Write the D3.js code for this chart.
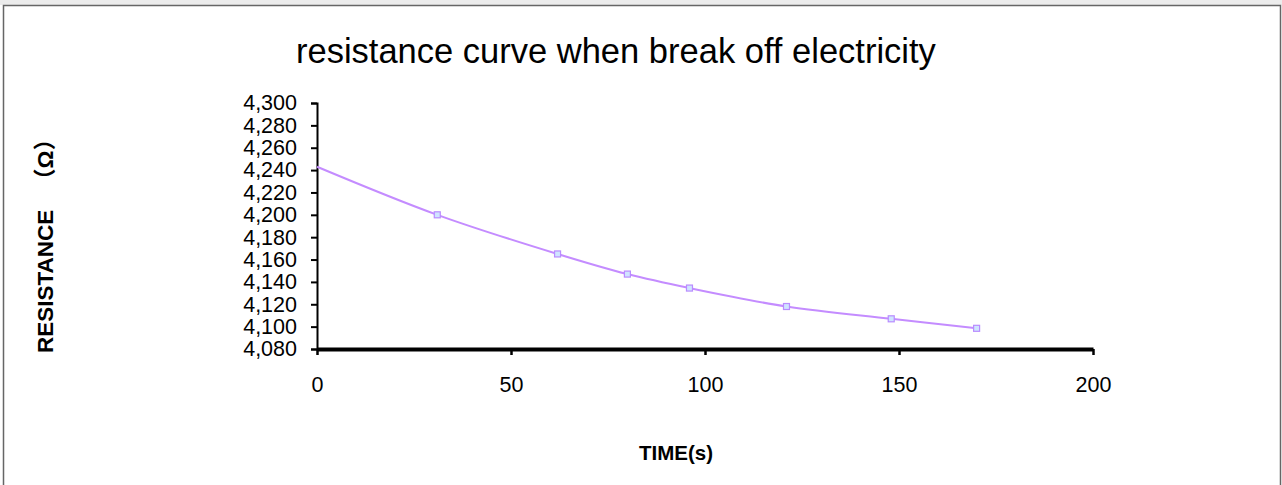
<!DOCTYPE html>
<html>
<head>
<meta charset="utf-8">
<script src="https://cdn.jsdelivr.net/npm/d3@7"></script>
<style>
  body { margin: 0; background: #fff; }
  text { font-family: "Liberation Sans", Arial, "Noto Sans CJK SC", sans-serif; fill: #000; }
</style>
</head>
<body>
<div id="chart"></div>
<script>
// measured points (time in s, resistance in ohm)
var times = [31, 62, 80, 96, 121, 148, 170]
var resistance = [4200, 4165, 4147, 4134.5, 4118, 4107, 4098.5]
// curve starts at t = 0 without a marker
var startTime = 0
var startResistance = 4243

var xTicks = [0, 50, 100, 150, 200]
var yTicks = [4080, 4100, 4120, 4140, 4160, 4180, 4200, 4220, 4240, 4260, 4280, 4300]

var width = 1282
var height = 485

var svg = d3.select("#chart")
  .append("svg")
  .attr("width", width)
  .attr("height", height)

// light strip + chart area border (no bottom edge)
svg.append("rect")
  .attr("x", 0).attr("y", 0)
  .attr("width", width).attr("height", 5)
  .style("fill", "#ececec")

svg.append("path")
  .attr("d", `M3.5,${height} V5.5 H1280.5 V${height}`)
  .style("fill", "none")
  .style("stroke", "#666")
  .style("stroke-width", 1.5)

var xScale = d3.scaleLinear()
  .domain([0, 200])
  .range([317, 1093])

var yScale = d3.scaleLinear()
  .domain([4080, 4300])
  .range([349, 103])

// Y axis
var yAxis = d3.axisLeft(yScale)
  .tickValues(yTicks)
  .tickSize(6)
  .tickPadding(14)
  .tickFormat(d3.format(","))

svg.append("g")
  .attr("transform", `translate(${xScale(0)},0)`)
  .attr("class", "y-axis")
  .call(yAxis)
  .call(g => g.select(".domain").style("stroke", "#000").style("stroke-width", 2))
  .call(g => g.selectAll(".tick line").style("stroke", "#000").style("stroke-width", 2))
  .selectAll("text")
  .style("font-size", "21.5px")
  .style("font-family", '"Liberation Sans", Arial, sans-serif')
  .style("fill", "#000")

// X axis
var xAxis = d3.axisBottom(xScale)
  .tickValues(xTicks)
  .tickSize(6)
  .tickSizeOuter(0)
  .tickPadding(22)

svg.append("g")
  .attr("transform", `translate(0,${yScale(4080)})`)
  .attr("class", "x-axis")
  .call(xAxis)
  .call(g => g.select(".domain").style("stroke", "#000").style("stroke-width", 4))
  .call(g => g.selectAll(".tick line").style("stroke", "#000").style("stroke-width", 2.5))
  .selectAll("text")
  .style("font-size", "21.5px")
  .style("font-family", '"Liberation Sans", Arial, sans-serif')
  .style("fill", "#000")

// curve
var curveData = [{ t: startTime, r: startResistance }]
  .concat(times.map((t, i) => ({ t: t, r: resistance[i] })))

var line = d3.line()
  .x(d => xScale(d.t))
  .y(d => yScale(d.r))
  .curve(d3.curveCatmullRom)

svg.append("path")
  .datum(curveData)
  .attr("d", line)
  .style("fill", "none")
  .style("stroke", "#c48cff")
  .style("stroke-width", 2)

// markers
svg.selectAll("markers")
  .data(times)
  .enter()
  .append("rect")
  .attr("x", d => xScale(d) - 3)
  .attr("y", (d, i) => yScale(resistance[i]) - 3)
  .attr("width", 6)
  .attr("height", 6)
  .style("fill", "#cfe4ff")
  .style("stroke", "#b98cff")
  .style("stroke-width", 1.2)

// title
svg.append("text")
  .attr("x", 296)
  .attr("y", 63)
  .style("font-size", "34.5px")
  .text("resistance curve when break off electricity")

// axis titles
svg.append("text")
  .attr("x", 676)
  .attr("y", 460)
  .attr("text-anchor", "middle")
  .style("font-size", "20.5px")
  .style("font-weight", "bold")
  .text("TIME(s)")

svg.append("text")
  .attr("transform", "translate(53,353) rotate(-90)")
  .attr("text-anchor", "start")
  .style("font-size", "22.5px")
  .style("font-weight", "bold")
  .text("RESISTANCE\u00a0\u00a0\u00a0（Ω）")
</script>
</body>
</html>
